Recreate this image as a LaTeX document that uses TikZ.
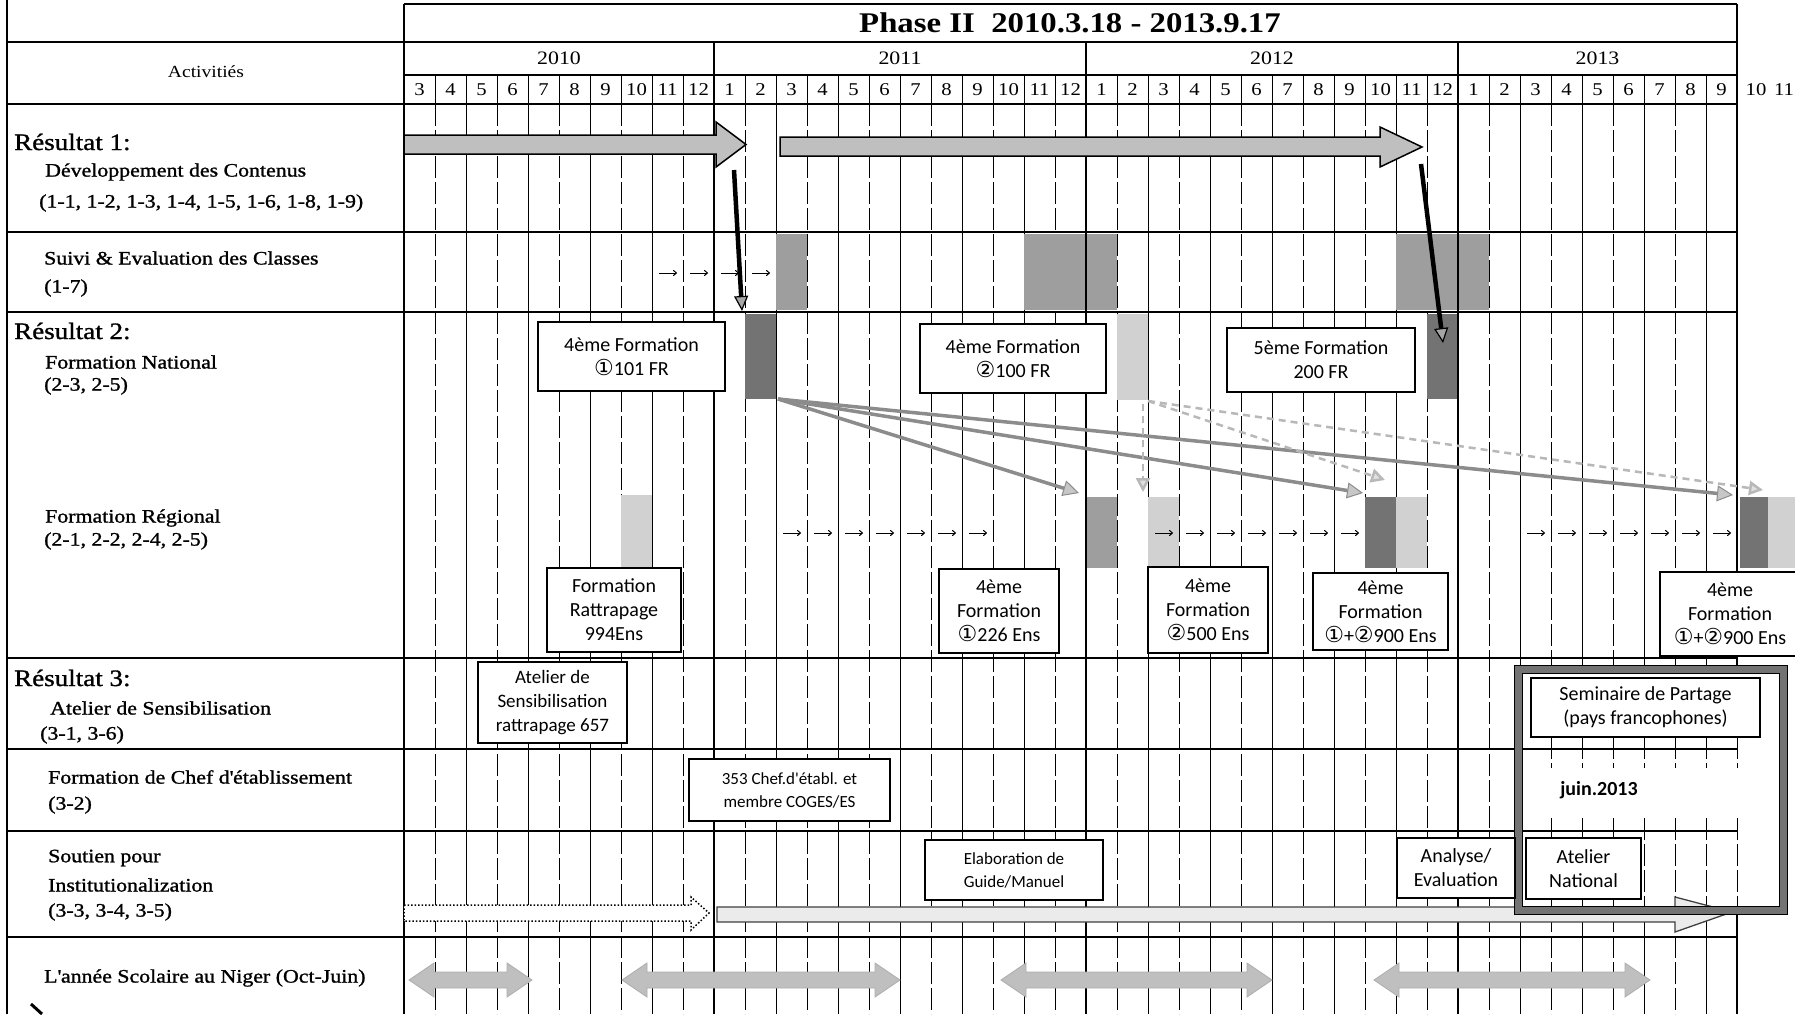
\documentclass[tikz,border=0pt]{standalone}
\usepackage{fontspec}
\setmainfont{Liberation Serif}[FakeStretch=1.15]
\newfontfamily\lblfont{Liberation Serif}[FakeStretch=1.15, FakeBold=1.2]
\newfontfamily\calfont{Carlito}
\newfontfamily\circfont{DejaVu Sans}
\usetikzlibrary{arrows.meta}
\newcommand{\cOne}{{\circfont\fontsize{22}{20}\selectfont ①}}
\newcommand{\cTwo}{{\circfont\fontsize{22}{20}\selectfont ②}}
\begin{document}
\begin{tikzpicture}[x=1pt,y=-1pt,
  gridv/.style={line width=0.9pt, dash pattern=on 22pt off 4pt},
  gridw/.style={line width=1pt},
  hline/.style={line width=1.5pt},
  hthick/.style={line width=2.6pt},
  yearline/.style={line width=2.2pt},
  box/.style={draw, line width=1.3pt, fill=white, align=center, inner sep=0pt, font=\calfont\fontsize{20}{24}\selectfont},
  smallbox/.style={box, font=\calfont\fontsize{17}{23}\selectfont},
  lbl/.style={anchor=west, inner sep=0pt, font=\lblfont\fontsize{19}{22}\selectfont},
  res/.style={anchor=west, inner sep=0pt, font=\lblfont\fontsize{23.5}{26}\selectfont},
  hdr/.style={inner sep=0pt, font=\fontsize{18}{20}\selectfont},
  yr/.style={inner sep=0pt, font=\fontsize{19}{20}\selectfont},
  shadeM/.style={fill=black!38},
  shadeD/.style={fill=black!55},
  shadeL/.style={fill=black!18},
  smallarr/.style={line width=1pt, -{To[length=4pt,width=6pt]}},
  blackarr/.style={line width=4.5pt, -{Triangle[length=15pt,width=14pt,fill=black!35,line width=1.2pt]}},
  grayarr/.style={draw=black!45, line width=3.5pt, -{Triangle[length=16pt,width=16pt,fill=black!22,line width=1pt]}},
  dasharr/.style={draw=black!28, line width=2.5pt, dash pattern=on 7pt off 5pt, -{Triangle[length=14pt,width=14pt,fill=black!12]}},
  fatarrow/.style={draw, line width=1.5pt, fill=black!25},
  yarr/.style={fill=black!25, draw=black!32, line width=0.8pt}
]
\fill[white] (0,0) rectangle (1795,1014);
\useasboundingbox (0,0) rectangle (1795,1014);
\clip (0,0) rectangle (1795,1014);

% ---------- grid (body) ----------
\foreach \k in {1,3,...,41} \draw[gridv] ({404+31*\k},104) -- ({404+31*\k},1014);
\foreach \k in {2,4,...,42} \draw[gridw] ({404+31*\k},104) -- ({404+31*\k},1014);

% ---------- shaded blocks ----------
\foreach \k in {12,20,21,22,32,33,34} \fill[shadeM] ({404+31*\k},234) rectangle ({435+31*\k},310);
\fill[shadeD] (745,314) rectangle (776,399);
\fill[shadeD] (1427,314) rectangle (1458,399);
\fill[shadeL] (1117,314) rectangle (1148,400);
\fill[shadeL] (621,495) rectangle (652,567);
\fill[shadeM] (1086,497) rectangle (1117,568);
\fill[shadeL] (1148,497) rectangle (1179,568);
\fill[shadeD] (1365,497) rectangle (1396,568);
\fill[shadeL] (1396,497) rectangle (1427,568);
\fill[shadeD] (1740,497) rectangle (1768,568);
\fill[shadeL] (1768,497) rectangle (1795,568);

% ---------- year / border verticals ----------
\foreach \k in {10,22,34} \draw[yearline] ({404+31*\k},42) -- ({404+31*\k},1014);
\draw[line width=1.8pt] (404,4) -- (404,1014);
\draw[line width=1.8pt] (1737,4) -- (1737,1014);
\draw[line width=1.5pt] (7,0) -- (7,1014);
\foreach \k in {1,...,42} \draw[line width=1pt] ({404+31*\k},75) -- ({404+31*\k},104);

% ---------- horizontal lines ----------
\draw[hline] (404,4) -- (1737,4);
\draw[hline] (7,42) -- (1737,42);
\draw[hline] (404,75) -- (1737,75);
\draw[hthick] (7,104) -- (1737,104);
\draw[hline] (7,232) -- (1737,232);
\draw[hthick] (7,312) -- (1737,312);
\draw[hthick] (7,658) -- (1737,658);
\draw[hline] (7,749) -- (1737,749);
\draw[hline] (7,831) -- (1737,831);
\draw[hline] (7,937) -- (1737,937);

% ---------- header texts ----------
\node[font=\bfseries\fontsize{28.5}{30}\selectfont, inner sep=0pt] (title) at (1070,23) {Phase II\ \ 2010.3.18 - 2013.9.17};
\node[inner sep=0pt, font=\fontsize{17}{18}\selectfont] (act) at (206,72) {Activitiés};
\node[yr] (y2010) at (559,58.5) {2010};
\node[yr] (y2011) at (900,58.5) {2011};
\node[yr] (y2012) at (1272,58.5) {2012};
\node[yr] (y2013) at (1597.5,58.5) {2013};
\foreach \m [count=\c from 0] in {3,4,5,6,7,8,9,10,11,12,1,2,3,4,5,6,7,8,9,10,11,12,1,2,3,4,5,6,7,8,9,10,11,12,1,2,3,4,5,6,7,8,9}
  \node[hdr] (m\c) at ({419.5+31*\c},89.5) {\m};
\node[hdr] (m43) at (1756,89.5) {10};
\node[hdr] (m44) at (1784,89.5) {11};

% ---------- left labels ----------
\node[res] (r1) at (14,142) {Résultat 1:};
\node[lbl] (l1) at (45,172) {Développement des Contenus};
\node[lbl] (l2) at (39,203) {(1-1, 1-2, 1-3, 1-4, 1-5, 1-6, 1-8, 1-9)};
\node[lbl] (l3) at (44,258) {Suivi \& Evaluation des Classes};
\node[lbl] (l4) at (44,288) {(1-7)};
\node[res] (r2) at (14,331) {Résultat 2:};
\node[lbl] (l5) at (45,362) {Formation National};
\node[lbl] (l6) at (44,386) {(2-3, 2-5)};
\node[lbl] (l7) at (45,518) {Formation Régional};
\node[lbl] (l8) at (44,541) {(2-1, 2-2, 2-4, 2-5)};
\node[res] (r3) at (14,678) {Résultat 3:};
\node[lbl] (l9) at (50,708) {Atelier de Sensibilisation};
\node[lbl] (l10) at (40,735) {(3-1, 3-6)};
\node[lbl] (l11) at (48,777) {Formation de Chef d\textquotesingle établissement};
\node[lbl] (l12) at (48,805) {(3-2)};
\node[lbl] (l13) at (48,858) {Soutien pour};
\node[lbl] (l14) at (48,885) {Institutionalization};
\node[lbl] (l15) at (48,912) {(3-3, 3-4, 3-5)};
\node[lbl] (l16) at (44,978) {L\textquotesingle année Scolaire au Niger (Oct-Juin)};
\draw[line width=3pt] (31,1004) -- (42,1014);

% ---------- Resultat 1 arrows ----------
\filldraw[fatarrow] (404,135) -- (716,135) -- (716,122) -- (746,144.5) -- (716,167) -- (716,154) -- (404,154) -- cycle;
\filldraw[fatarrow] (780,137) -- (1380,137) -- (1380,127) -- (1422,147) -- (1380,167) -- (1380,156) -- (780,156) -- cycle;

% small arrows
\foreach \k in {8,9,10,11} \draw[smallarr] ({404+31*\k+7},273) -- ({404+31*\k+25},273);
\foreach \k in {12,...,18,24,25,26,27,28,29,30,36,37,38,39,40,41,42} \draw[smallarr] ({404+31*\k+7},533) -- ({404+31*\k+25},533);

% ---------- gray connectors in Resultat 2 ----------
\coordinate (gs) at (778,399);
\coordinate (g1) at (1079,493);
\coordinate (g2) at (1363,493);
\coordinate (g3) at (1733,495);
\draw[grayarr] (gs) -- (g1);
\draw[grayarr] (gs) -- (g2);
\draw[grayarr] (gs) -- (g3);
\coordinate (ds) at (1148,401);
\coordinate (dv0) at (1143,404);
\coordinate (dv) at (1143,492);
\coordinate (d2) at (1385,480);
\coordinate (d3) at (1763,490);
\draw[dasharr] (dv0) -- (dv);
\draw[dasharr] (ds) -- (d2);
\draw[dasharr] (ds) -- (d3);

% ---------- boxes Resultat 2 ----------
\node[box, minimum width=187pt, minimum height=69pt] (n1) at (631.5,356.5) {4ème Formation\\\cOne101 FR};
\node[box, minimum width=186pt, minimum height=69pt] (n2) at (1013,358.5) {4ème Formation\\\cTwo100 FR};
\node[box, minimum width=188pt, minimum height=64pt] (n3) at (1321,360) {5ème Formation\\200 FR};
\node[box, minimum width=134pt, minimum height=84pt] (rr1) at (614,610) {Formation\\Rattrapage\\994Ens};
\node[box, minimum width=120pt, minimum height=84pt] (rr2) at (999,611) {4ème\\Formation\\\cOne226 Ens};
\node[box, minimum width=120pt, minimum height=86pt] (rr3) at (1208,610) {4ème\\Formation\\\cTwo500 Ens};
\node[box, minimum width=135pt, minimum height=77pt] (rr4) at (1380.5,611.5) {4ème\\Formation\\\cOne+\cTwo900 Ens};
\node[box, minimum width=140pt, minimum height=84pt] (rr5) at (1730,614) {4ème\\Formation\\\cOne+\cTwo900 Ens};

% ---------- black arrows ----------
\coordinate (b1s) at (734,170);
\coordinate (b1e) at (742,311);
\coordinate (b2s) at (1421,164);
\coordinate (b2e) at (1443,343);
\draw[blackarr] (b1s) -- (b1e);
\draw[blackarr] (b2s) -- (b2e);

% ---------- Resultat 3 and below ----------
\node[box, font=\calfont\fontsize{19}{24}\selectfont, minimum width=149pt, minimum height=81pt] (s1) at (552.5,702.5) {Atelier de\\Sensibilisation\\rattrapage 657};
\node[smallbox, minimum width=201pt, minimum height=62pt] (c1) at (789.5,790) {353 Chef.d\textquotesingle établ. et\\membre COGES/ES};
\node[smallbox, minimum width=178pt, minimum height=60pt] (e1) at (1014,870) {Elaboration de\\Guide/Manuel};

% dotted arrow 2010
\filldraw[draw, fill=white, dotted, line width=1.5pt] (404,905) -- (691,905) -- (691,897) -- (709,913) -- (691,930) -- (691,921) -- (404,921) -- cycle;

% frame interior
\fill[white] (1522,673) rectangle (1779,906);
\foreach \k in {37,...,43} {
  \draw[gridv] ({404+31*\k},737) -- ({404+31*\k},768);
  \draw[gridv] ({404+31*\k},818) -- ({404+31*\k},906);
}
\draw[hline] (1522,749) -- (1737,749);
\draw[hline] (1522,831) -- (1737,831);

% long arrow
\filldraw[draw=black!75, fill=black!8, line width=1.3pt] (717,907) -- (1675,907) -- (1675,897) -- (1732,912) -- (1675,932) -- (1675,922) -- (717,922) -- cycle;

% thick frame
\draw[line width=8pt, draw=black!55] (1518,669) rectangle (1783,910);
\draw[line width=1pt] (1514,665) rectangle (1787,914);
\draw[line width=1pt] (1522,673) rectangle (1779,906);

\node[box, minimum width=229pt, minimum height=59pt] (sp) at (1645.5,707.5) {Seminaire de Partage\\(pays francophones)};
\node[inner sep=0pt, font=\calfont\bfseries\fontsize{20}{24}\selectfont] (juin) at (1599,790) {juin.2013};
\node[box, minimum width=118pt, minimum height=60pt] (ae) at (1456,868) {Analyse/\\Evaluation};
\node[box, minimum width=115pt, minimum height=61pt] (an) at (1583.5,868.5) {Atelier\\National};

% school-year arrows
\foreach \a/\b in {409/532, 622/900, 1001/1272, 1374/1650}
  \filldraw[yarr] (\a,980) -- ({\a+25},963) -- ({\a+25},972) -- ({\b-25},972) -- ({\b-25},963) -- (\b,980) -- ({\b-25},997) -- ({\b-25},988) -- ({\a+25},988) -- ({\a+25},997) -- cycle;
\end{tikzpicture}
\end{document}
